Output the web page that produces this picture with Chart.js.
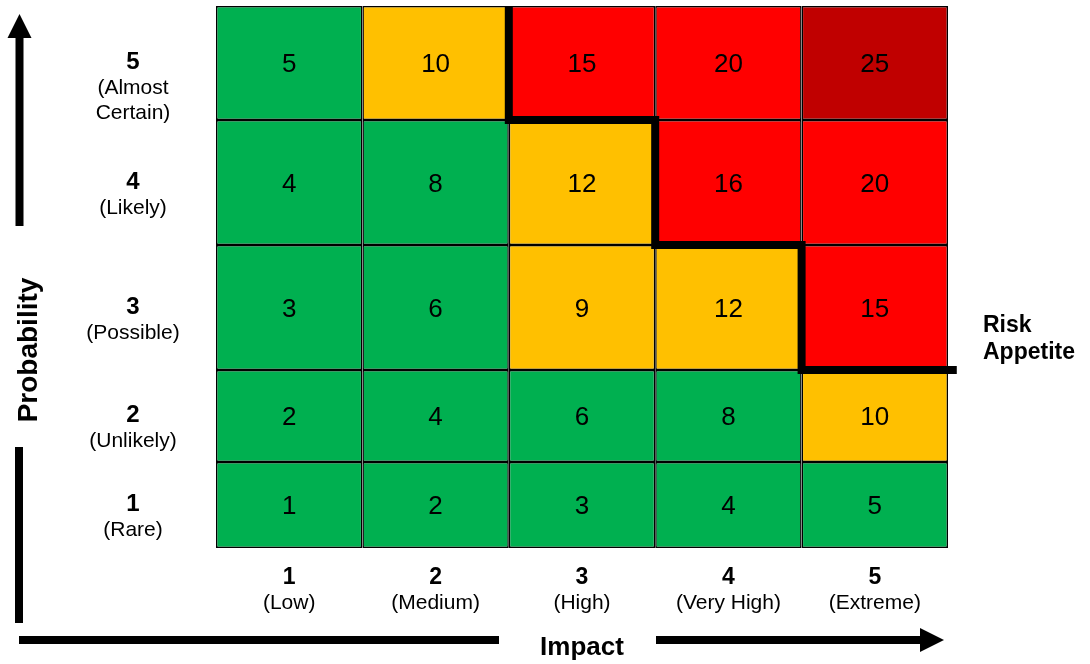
<!DOCTYPE html>
<html>
<head>
<meta charset="utf-8">
<title>Risk Matrix</title>
<script src="https://cdn.jsdelivr.net/npm/chart.js@4/dist/chart.umd.min.js"></script>
<style>
  html, body { margin: 0; padding: 0; background: #ffffff; }
  #wrap { position: relative; width: 1090px; height: 664px; }
</style>
</head>
<body>
<div id="wrap"><canvas id="matrix"></canvas></div>
<script>
// Impact (columns) and probability (rows) categories
const impactLevels = [1, 2, 3, 4, 5];
const impactNames = ['(Low)', '(Medium)', '(High)', '(Very High)', '(Extreme)'];
const probabilityLevels = [1, 2, 3, 4, 5];
const probabilityNames = [['(Rare)'], ['(Unlikely)'], ['(Possible)'], ['(Likely)'], ['(Almost', 'Certain)']];

// Risk score of each cell, one row per probability level (bottom row first)
const scoresRare     = [1, 2, 3, 4, 5];
const scoresUnlikely = [2, 4, 6, 8, 10];
const scoresPossible = [3, 6, 9, 12, 15];
const scoresLikely   = [4, 8, 12, 16, 20];
const scoresCertain  = [5, 10, 15, 20, 25];
const scoreRows = [scoresRare, scoresUnlikely, scoresPossible, scoresLikely, scoresCertain];

// Scores at or above this lie outside the risk appetite
const appetiteThreshold = 15;

// Relative height of each probability band (bottom to top) on the y scale
const bandHeights = [86, 92, 125, 125, 114];
const bandEdges = bandHeights.reduce((acc, h) => { acc.push(acc[acc.length - 1] + h); return acc; }, [0]);
const yTop = bandEdges[bandEdges.length - 1];
// How far the appetite line runs past the last column, in column units
const appetiteOverhang = 0.06;

const FONT = "'Liberation Sans', Arial, Helvetica, sans-serif";

function scoreColor(s) {
  if (s >= 25) return '#C00000';
  if (s >= 15) return '#FF0000';
  if (s >= 9) return '#FFC000';
  return '#00B050';
}

// One floating-bar dataset per probability band
const barSets = scoreRows.map((row, r) => ({
  type: 'bar',
  label: 'P' + probabilityLevels[r],
  data: row.map(() => [bandEdges[r], bandEdges[r + 1]]),
  scores: row,
  backgroundColor: row.map(scoreColor),
  borderColor: '#000000',
  borderWidth: 1.5,
  borderSkipped: false,
  inflateAmount: 0,
  grouped: false,
  categoryPercentage: 1,
  barPercentage: 1,
  xAxisID: 'x',
  yAxisID: 'y',
  order: 2
}));

// Staircase boundary around the cells at or above the threshold
function appetitePath() {
  const n = impactLevels.length;
  const boundary = impactLevels.map((_, c) => {
    let r = scoreRows.length;
    while (r > 0 && scoreRows[r - 1][c] >= appetiteThreshold) r--;
    return bandEdges[r];
  });
  const first = boundary.findIndex(b => b < yTop);
  const pts = [{ x: first, y: yTop }];
  for (let c = first; c < n; c++) {
    pts.push({ x: c, y: boundary[c] });
    pts.push({ x: c + 1, y: boundary[c] });
  }
  pts[pts.length - 1].x = n + appetiteOverhang;
  return pts;
}

const appetiteSet = {
  type: 'line',
  label: 'Risk Appetite',
  data: appetitePath(),
  xAxisID: 'x2',
  yAxisID: 'y',
  borderColor: '#000000',
  borderWidth: 8,
  borderJoinStyle: 'miter',
  borderCapStyle: 'butt',
  pointRadius: 0,
  tension: 0,
  fill: false,
  clip: false,
  order: 1
};

// Cell scores, axis labels, arrows and titles
const matrixDecor = {
  id: 'matrixDecor',
  afterDraw(chart) {
    const ctx = chart.ctx;
    const area = chart.chartArea;
    const xs = chart.scales.x;
    const ys = chart.scales.y;
    ctx.save();
    ctx.fillStyle = '#000000';

    // scores inside the cells
    ctx.font = '26px ' + FONT;
    ctx.textAlign = 'center';
    ctx.textBaseline = 'middle';
    chart.data.datasets.forEach((ds, di) => {
      if (!ds.scores) return;
      chart.getDatasetMeta(di).data.forEach((el, j) => {
        ctx.fillText(String(ds.scores[j]), el.x, (el.y + el.base) / 2 + 2);
      });
    });

    // impact labels under the columns
    ctx.textBaseline = 'alphabetic';
    impactLevels.forEach((lv, i) => {
      const x = xs.getPixelForValue(i);
      ctx.font = 'bold 23px ' + FONT;
      ctx.fillText(String(lv), x, area.bottom + 36);
      ctx.font = '21px ' + FONT;
      ctx.fillText(impactNames[i], x, area.bottom + 61);
    });

    // probability labels left of the rows
    const lx = area.left - 83;
    probabilityLevels.forEach((lv, r) => {
      const yc = ys.getPixelForValue((bandEdges[r] + bandEdges[r + 1]) / 2);
      let y = yc + 6;
      ctx.font = 'bold 24px ' + FONT;
      ctx.fillText(String(lv), lx, y);
      ctx.font = '21px ' + FONT;
      probabilityNames[r].forEach(line => {
        y += 25;
        ctx.fillText(line, lx, y);
      });
    });

    // probability arrow and line
    ctx.fillRect(15.5, 37, 8, 189);
    ctx.beginPath();
    ctx.moveTo(19.5, 14);
    ctx.lineTo(31.5, 38);
    ctx.lineTo(7.5, 38);
    ctx.closePath();
    ctx.fill();
    ctx.fillRect(15, 447, 8, 176);

    // impact line and arrow
    ctx.fillRect(19, 636, 480, 8);
    ctx.fillRect(656, 636, 266, 8);
    ctx.beginPath();
    ctx.moveTo(920, 628);
    ctx.lineTo(944, 640);
    ctx.lineTo(920, 652);
    ctx.closePath();
    ctx.fill();

    // axis titles
    ctx.font = 'bold 26px ' + FONT;
    ctx.textAlign = 'center';
    ctx.fillText('Impact', 582, 655);

    ctx.save();
    ctx.translate(37, 350);
    ctx.rotate(-Math.PI / 2);
    ctx.font = 'bold 28px ' + FONT;
    ctx.fillText('Probability', 0, 0);
    ctx.restore();

    // appetite caption
    ctx.font = 'bold 23px ' + FONT;
    ctx.textAlign = 'left';
    ctx.fillText('Risk', 983, 332);
    ctx.fillText('Appetite', 983, 359);

    ctx.restore();
  }
};

new Chart(document.getElementById('matrix'), {
  type: 'bar',
  data: {
    labels: impactLevels.map(String),
    datasets: [...barSets, appetiteSet]
  },
  options: {
    responsive: true,
    maintainAspectRatio: false,
    animation: false,
    events: [],
    layout: { padding: { left: 216, right: 142, top: 6, bottom: 116 } },
    plugins: { legend: { display: false }, tooltip: { enabled: false } },
    scales: {
      x: { type: 'category', display: false, offset: true, grid: { display: false } },
      x2: { type: 'linear', display: false, offset: false, min: 0, max: impactLevels.length },
      y: { type: 'linear', display: false, min: 0, max: yTop }
    }
  },
  plugins: [matrixDecor]
});
</script>
</body>
</html>
